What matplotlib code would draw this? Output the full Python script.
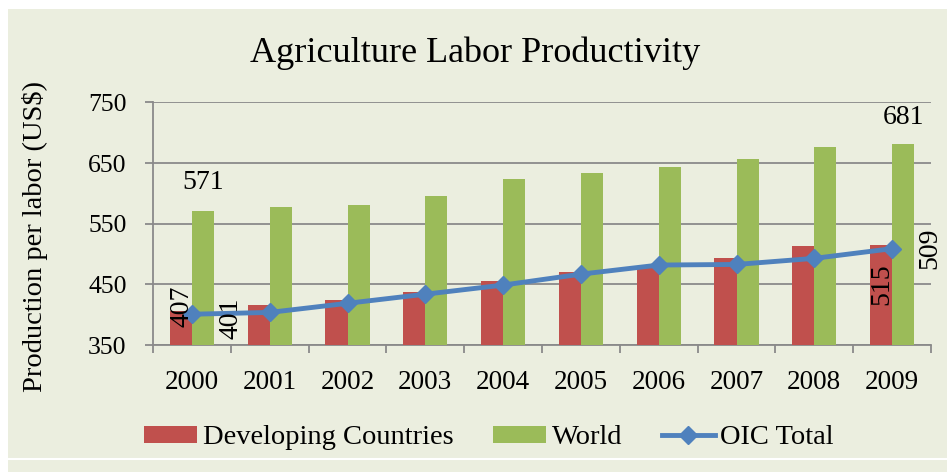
import numpy as np
import matplotlib
matplotlib.use("Agg")
import matplotlib.pyplot as plt
from matplotlib.patches import Rectangle
from matplotlib.lines import Line2D

years = ["2000", "2001", "2002", "2003", "2004", "2005", "2006", "2007", "2008", "2009"]
developing = [407, 417, 424, 437, 456, 470, 480, 494, 513, 515]
world = [571, 577, 581, 595, 623, 633, 643, 657, 677, 681]
oic_total = [401, 404, 419, 434, 449, 467, 482, 483, 493, 509]
y_ticks = [350, 450, 550, 650, 750]

RED = "#c0504d"
GREEN = "#9bbb59"
BLUE = "#4f81bd"
BG = "#ebeedf"
GRID = "#8a8a8a"
FONT = "Liberation Serif"

plt.rcParams["font.family"] = [FONT, "DejaVu Serif"]

W, H = 947, 472
fig = plt.figure(figsize=(W / 100, H / 100), dpi=100)
fig.patch.set_facecolor("white")
# chart area background
fig.patches.append(Rectangle((8 / W, 0), 1 - 8 / W, 1 - 9 / H, transform=fig.transFigure,
                             facecolor=BG, edgecolor="none", zorder=-10))
fig.add_artist(Line2D([8 / W, 1], [1 - 458.5 / H, 1 - 458.5 / H], transform=fig.transFigure,
                      color="white", lw=1.5, zorder=-5))

ax = fig.add_axes([153 / W, 1 - 345.2 / H, (931 - 153) / W, (345.2 - 102.3) / H])
ax.set_facecolor("none")

x = np.arange(len(years))
bw = 0.283
b1 = ax.bar(x - bw / 2, np.array(developing) - 350, bw, bottom=350, color=RED, zorder=3,
            label="Developing Countries")
b2 = ax.bar(x + bw / 2, np.array(world) - 350, bw, bottom=350, color=GREEN, zorder=3,
            label="World")
l1, = ax.plot(x, oic_total, color=BLUE, lw=3.5, marker="D", ms=9, zorder=4, label="OIC Total")

ax.set_xlim(-0.5, len(years) - 0.5)
ax.set_ylim(350, 750)
ax.set_yticks(y_ticks)
ax.yaxis.grid(True, color=GRID, lw=1.3, zorder=0)
ax.set_axisbelow(True)

ax.set_xticks(np.arange(-0.5, len(years), 1.0))
ax.set_xticklabels([])
ax.set_xticks(x, minor=True)
ax.set_xticklabels(years, minor=True)
ax.tick_params(axis="x", which="major", length=6, width=1.3, color=GRID, direction="out")
ax.tick_params(axis="x", which="minor", length=0, pad=18, labelsize=19.5)
ax.tick_params(axis="y", length=6, width=1.3, color=GRID, direction="out", pad=13, labelsize=18.5)

for s in ["top", "right"]:
    ax.spines[s].set_visible(False)
for s in ["left", "bottom"]:
    ax.spines[s].set_color(GRID)
    ax.spines[s].set_linewidth(1.3)

px = 0.72  # points per pixel
lab_kw = dict(textcoords="offset points", fontsize=20, ha="center", va="center", zorder=6)
# data labels
ax.annotate(str(developing[0]), (x[0] - bw / 2, developing[0]), xytext=(1 * px, 4 * px),
            rotation=90, **lab_kw)
ax.annotate(str(oic_total[0]), (x[0], oic_total[0]), xytext=(39 * px, -4 * px),
            rotation=90, **lab_kw)
ax.annotate(str(world[0]), (x[0] + bw / 2, world[0]), xytext=(0, 28 * px), **lab_kw)
ax.annotate(str(world[-1]), (x[-1] + bw / 2, world[-1]), xytext=(0, 27 * px), **lab_kw)
ax.annotate(str(developing[-1]), (x[-1] - bw / 2, developing[-1]), xytext=(1 * px, -39 * px),
            rotation=90, **lab_kw)
ax.annotate(str(oic_total[-1]), (x[-1], oic_total[-1]), xytext=(38 * px, 0),
            rotation=90, **lab_kw)

fig.text(475 / W, 1 - 62 / H, "Agriculture Labor Productivity", fontsize=26,
         ha="center", va="baseline")
fig.text(35 / W, 1 - 236 / H, "Production per labor (US$)", fontsize=20.5,
         rotation=90, ha="center", va="center")

fig.legend([b1, b2, l1], ["Developing Countries", "World", "OIC Total"], loc="center",
           bbox_to_anchor=(489 / W, 1 - 438 / H), ncol=3,
           frameon=False, fontsize=20.5, handlelength=1.85, handleheight=0.55,
           handletextpad=0.2, columnspacing=1.4, borderpad=0, borderaxespad=0)

fig.savefig("out.png", dpi=100, facecolor=fig.get_facecolor())
